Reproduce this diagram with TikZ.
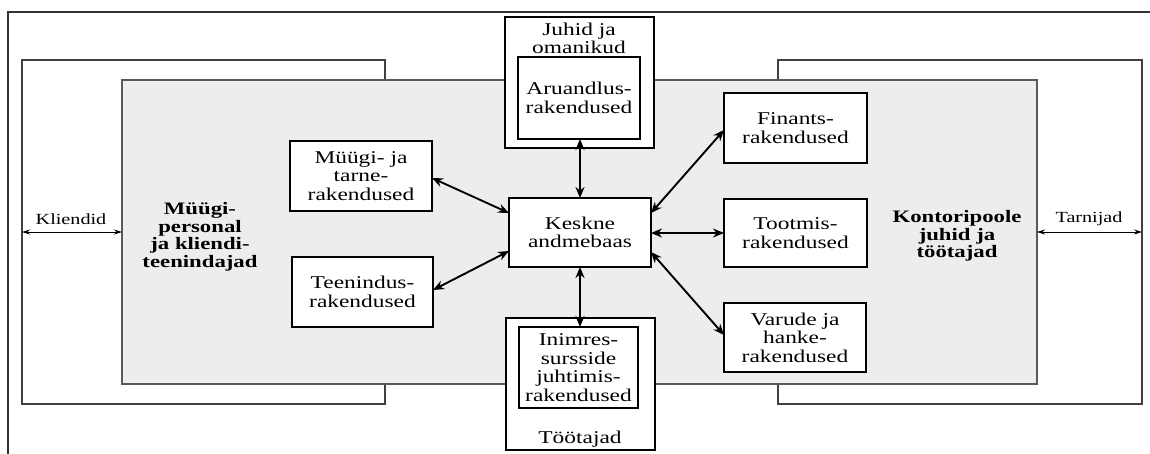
\documentclass[tikz,border=0pt]{standalone}
\usepackage{fontspec}
\setmainfont{Liberation Serif}[FakeStretch=1.3]
\usetikzlibrary{arrows.meta}
\begin{document}
\begin{tikzpicture}[x=1pt,y=-1pt,
  lbl/.style={font=\fontsize{18}{18}\selectfont, align=center, inner sep=0pt},
  biglbl/.style={font=\fontsize{17.5}{17.5}\selectfont\bfseries, align=center, inner sep=0pt},
  sidelbl/.style={font=\fontsize{15.5}{18}\selectfont, inner sep=0pt},
  appbox/.style={draw=black, line width=2.4pt, fill=white, inner sep=0pt, outer sep=0pt, align=center,
    font=\fontsize{18}{18.5}\selectfont},
  wbox/.style={draw=black!75, line width=1.3pt, fill=white, inner sep=0pt, outer sep=0pt},
  gbox/.style={draw=black!65, line width=1.3pt, fill=black!7, inner sep=0pt, outer sep=0pt},
  frameline/.style={draw=black!80, line width=1.5pt},
  link/.style={{Stealth[length=11pt,width=9pt]}-{Stealth[length=11pt,width=9pt]}, line width=1.9pt},
  thinlink/.style={{Stealth[length=8pt,width=5pt]}-{Stealth[length=8pt,width=5pt]}, line width=0.9pt}
]
\useasboundingbox (0,0) rectangle (1150,453);
% outer frame
\coordinate (fbl) at (8,455);
\coordinate (ftl) at (8,12);
\coordinate (ftr) at (1152,12);
\draw[frameline] (fbl) -- (ftl) -- (ftr);

% white side boxes
\node[wbox, minimum width=363pt, minimum height=344pt] (lw) at (203.5,232) {};
\node[wbox, minimum width=364pt, minimum height=344pt] (rw) at (960,232) {};
% grey area
\node[gbox, minimum width=915pt, minimum height=304pt] (gb) at (579.5,232) {};

% top and bottom outer boxes
\node[appbox, minimum width=149pt, minimum height=131pt] (jo) at (579.5,82.5) {};
\node[appbox, minimum width=149pt, minimum height=132pt] (tt) at (580.5,384) {};

% inner boxes
\node[appbox, minimum width=122pt, minimum height=82pt] (aru) at (579,98) {Aruandlus-\\rakendused};
\node[appbox, minimum width=119pt, minimum height=81pt] (hr) at (578.5,367.5) {Inimres-\\sursside\\juhtimis-\\rakendused};
\node[lbl] (jot) at (579,38.5) {Juhid ja\\omanikud};
\node[lbl] (ttt) at (580,439) {Töötajad};

% application boxes
\node[appbox, minimum width=142pt, minimum height=70pt] (mt) at (361,176) {Müügi- ja\\tarne-\\rakendused};
\node[appbox, minimum width=141pt, minimum height=70pt] (tee) at (362.5,292) {Teenindus-\\rakendused};
\node[appbox, minimum width=142pt, minimum height=69pt] (kesk) at (580,232.5) {Keskne\\andmebaas};
\node[appbox, minimum width=143pt, minimum height=70pt] (fin) at (795.5,128) {Finants-\\rakendused};
\node[appbox, minimum width=143pt, minimum height=68pt] (too) at (795.5,233) {Tootmis-\\rakendused};
\node[appbox, minimum width=142pt, minimum height=69pt] (var) at (795,337.5) {Varude ja\\hanke-\\rakendused};

% big labels
\node[biglbl] (mp) at (200,237) {Müügi-\\personal\\ja kliendi-\\teenindajad};
\node[biglbl] (kp) at (957,236) {Kontoripoole\\juhid ja\\töötajad};
\node[sidelbl] (kl) at (71,219) {Kliendid};
\node[sidelbl] (tr) at (1089,219) {Tarnijad};

% connectors
\draw[link] (mt.east |- 0,178) -- (kesk.west |- 0,213);
\draw[link] (tee.east |- 0,290) -- (kesk.west |- 0,251);
\draw[link] (aru.south -| kesk.north) -- (kesk.north);
\draw[link] (kesk.south) -- (hr.north -| kesk.south);
\draw[link] (kesk.east |- 0,213) -- (fin.west |- 0,130);
\draw[link] (kesk.east |- 0,233) -- (too.west |- 0,233);
\draw[link] (kesk.east |- 0,252) -- (var.west |- 0,335);
\draw[thinlink] (lw.west) -- (gb.west);
\draw[thinlink] (gb.east) -- (rw.east);
\end{tikzpicture}
\end{document}
